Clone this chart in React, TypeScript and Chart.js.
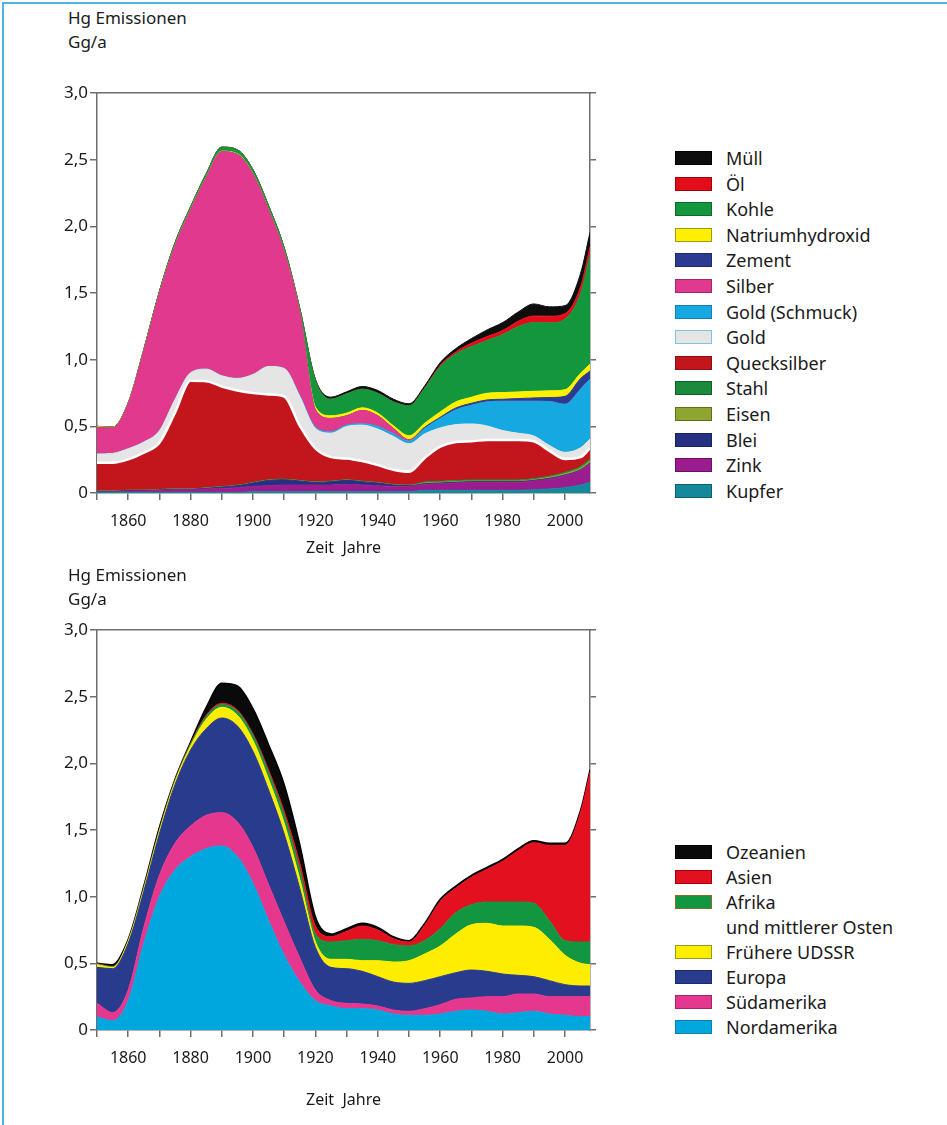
import React, { useEffect, useRef } from 'react';
import { Chart, registerables } from 'chart.js';

Chart.register(...registerables);

const FONT = '"Noto Sans", "Open Sans", sans-serif';
const TEXT = '#1a1a1a';
const AXIS = '#6e6e6e';

// ---------- data ----------
const years = [1850, 1855, 1860, 1865, 1870, 1875, 1880, 1885, 1890, 1895, 1900, 1905, 1910, 1915, 1920, 1925, 1930, 1935, 1940, 1945, 1950, 1955, 1960, 1965, 1970, 1975, 1980, 1985, 1990, 1995, 2000, 2005, 2008];

const yTickValues = [0, 0.5, 1.0, 1.5, 2.0, 2.5, 3.0];
const xTickYears = [1850, 1860, 1870, 1880, 1890, 1900, 1910, 1920, 1930, 1940, 1950, 1960, 1970, 1980, 1990, 2000];
const xLabelYears = [1860, 1880, 1900, 1920, 1940, 1960, 1980, 2000];

// top chart: emissions by source (Gg/a), bottom of stack first
const kupfer = [0.005, 0.005, 0.005, 0.005, 0.005, 0.005, 0.005, 0.005, 0.005, 0.005, 0.01, 0.01, 0.01, 0.01, 0.01, 0.01, 0.01, 0.01, 0.01, 0.01, 0.01, 0.02, 0.02, 0.02, 0.02, 0.02, 0.02, 0.02, 0.025, 0.03, 0.04, 0.06, 0.08];
const zink = [0.005, 0.005, 0.01, 0.01, 0.015, 0.02, 0.02, 0.025, 0.03, 0.035, 0.04, 0.045, 0.05, 0.05, 0.05, 0.05, 0.055, 0.05, 0.045, 0.04, 0.04, 0.045, 0.05, 0.055, 0.06, 0.06, 0.06, 0.06, 0.065, 0.075, 0.09, 0.11, 0.14];
const blei = [0.003, 0.003, 0.003, 0.003, 0.003, 0.003, 0.003, 0.005, 0.01, 0.015, 0.025, 0.04, 0.04, 0.03, 0.02, 0.025, 0.03, 0.025, 0.02, 0.01, 0.005, 0.005, 0.005, 0.005, 0.005, 0.005, 0.005, 0.005, 0.005, 0.005, 0.005, 0.005, 0.005];
const eisen = [0.002, 0.002, 0.002, 0.002, 0.002, 0.002, 0.002, 0.002, 0.002, 0.002, 0.002, 0.002, 0.002, 0.002, 0.002, 0.002, 0.002, 0.002, 0.002, 0.002, 0.002, 0.005, 0.005, 0.005, 0.005, 0.005, 0.005, 0.005, 0.005, 0.008, 0.01, 0.012, 0.015];
const stahl = [0.002, 0.002, 0.002, 0.002, 0.002, 0.002, 0.002, 0.002, 0.002, 0.002, 0.002, 0.002, 0.002, 0.002, 0.002, 0.002, 0.002, 0.002, 0.002, 0.002, 0.002, 0.008, 0.008, 0.008, 0.008, 0.008, 0.008, 0.008, 0.008, 0.008, 0.01, 0.012, 0.015];
const quecksilber = [0.21, 0.21, 0.23, 0.28, 0.35, 0.57, 0.81, 0.8, 0.75, 0.71, 0.67, 0.64, 0.62, 0.41, 0.25, 0.18, 0.16, 0.15, 0.13, 0.11, 0.1, 0.18, 0.26, 0.29, 0.29, 0.3, 0.3, 0.3, 0.28, 0.19, 0.1, 0.07, 0.08];
const gold = [0.065, 0.07, 0.08, 0.08, 0.09, 0.1, 0.06, 0.09, 0.08, 0.09, 0.14, 0.21, 0.21, 0.22, 0.15, 0.18, 0.24, 0.27, 0.27, 0.25, 0.21, 0.18, 0.14, 0.13, 0.13, 0.105, 0.07, 0.05, 0.04, 0.04, 0.05, 0.07, 0.07];
const goldSchmuck = [0, 0, 0, 0, 0, 0, 0, 0, 0, 0, 0, 0, 0, 0.005, 0.01, 0.01, 0.01, 0.01, 0.02, 0.02, 0.02, 0.04, 0.07, 0.11, 0.14, 0.18, 0.22, 0.24, 0.26, 0.33, 0.36, 0.44, 0.45];
const silber = [0.2, 0.19, 0.335, 0.68, 1.025, 1.15, 1.22, 1.435, 1.68, 1.68, 1.5, 1.17, 0.87, 0.62, 0.13, 0.1, 0.07, 0.1, 0.08, 0.04, 0.01, 0, 0, 0, 0, 0, 0, 0, 0, 0, 0, 0, 0];
const zement = [0, 0, 0, 0, 0, 0, 0, 0, 0, 0, 0, 0, 0, 0, 0, 0, 0, 0, 0, 0, 0, 0.01, 0.01, 0.015, 0.015, 0.015, 0.015, 0.02, 0.025, 0.03, 0.06, 0.08, 0.06];
const natrium = [0.005, 0.005, 0.005, 0.005, 0.005, 0.005, 0.005, 0.005, 0.005, 0.005, 0.005, 0.005, 0.005, 0.005, 0.02, 0.02, 0.02, 0.02, 0.02, 0.02, 0.03, 0.03, 0.04, 0.045, 0.045, 0.05, 0.05, 0.05, 0.05, 0.05, 0.05, 0.04, 0.05];
const kohle = [0.003, 0.003, 0.005, 0.01, 0.015, 0.02, 0.02, 0.025, 0.03, 0.03, 0.03, 0.03, 0.03, 0.03, 0.2, 0.125, 0.145, 0.14, 0.15, 0.18, 0.225, 0.26, 0.34, 0.36, 0.38, 0.395, 0.435, 0.49, 0.515, 0.51, 0.53, 0.6, 0.82];
const oel = [0, 0, 0, 0, 0, 0, 0, 0, 0, 0, 0, 0, 0, 0, 0, 0, 0, 0, 0, 0, 0, 0.005, 0.01, 0.015, 0.025, 0.03, 0.03, 0.04, 0.05, 0.05, 0.04, 0.05, 0.06];
const muell = [0, 0, 0, 0, 0, 0, 0, 0, 0, 0, 0, 0, 0, 0, 0.01, 0.015, 0.015, 0.02, 0.02, 0.02, 0.015, 0.015, 0.02, 0.025, 0.035, 0.05, 0.06, 0.07, 0.09, 0.07, 0.06, 0.1, 0.11];

// bottom chart: emissions by region (Gg/a), bottom of stack first
const nordamerika = [0.1, 0.07, 0.22, 0.65, 1.0, 1.2, 1.3, 1.36, 1.38, 1.3, 1.1, 0.82, 0.56, 0.36, 0.22, 0.18, 0.16, 0.16, 0.15, 0.12, 0.11, 0.11, 0.12, 0.14, 0.15, 0.14, 0.12, 0.13, 0.14, 0.12, 0.11, 0.1, 0.1];
const suedamerika = [0.1, 0.06, 0.08, 0.12, 0.16, 0.2, 0.23, 0.25, 0.25, 0.26, 0.27, 0.27, 0.25, 0.18, 0.08, 0.04, 0.04, 0.035, 0.03, 0.03, 0.03, 0.05, 0.07, 0.09, 0.09, 0.11, 0.13, 0.14, 0.13, 0.13, 0.14, 0.15, 0.15];
const europa = [0.27, 0.33, 0.35, 0.27, 0.31, 0.44, 0.57, 0.65, 0.71, 0.72, 0.72, 0.71, 0.66, 0.52, 0.32, 0.25, 0.26, 0.245, 0.22, 0.21, 0.21, 0.21, 0.21, 0.2, 0.21, 0.19, 0.17, 0.14, 0.13, 0.12, 0.09, 0.08, 0.08];
const udssr = [0.02, 0.01, 0.015, 0.015, 0.02, 0.02, 0.03, 0.07, 0.08, 0.08, 0.08, 0.08, 0.08, 0.07, 0.04, 0.06, 0.07, 0.08, 0.12, 0.15, 0.17, 0.2, 0.23, 0.29, 0.34, 0.36, 0.36, 0.37, 0.37, 0.31, 0.22, 0.17, 0.16];
const afrika = [0.005, 0.005, 0.005, 0.01, 0.01, 0.01, 0.015, 0.02, 0.02, 0.03, 0.04, 0.05, 0.06, 0.07, 0.06, 0.13, 0.14, 0.16, 0.15, 0.13, 0.11, 0.1, 0.13, 0.16, 0.15, 0.16, 0.18, 0.18, 0.18, 0.14, 0.11, 0.16, 0.17];
const asien = [0.002, 0.002, 0.002, 0.005, 0.005, 0.005, 0.005, 0.01, 0.01, 0.01, 0.01, 0.02, 0.03, 0.05, 0.06, 0.04, 0.07, 0.1, 0.08, 0.045, 0.03, 0.115, 0.205, 0.185, 0.205, 0.245, 0.305, 0.385, 0.455, 0.565, 0.715, 0.975, 1.275];
const ozeanien = [0.003, 0.013, 0.008, 0.01, 0.015, 0.005, 0.01, 0.06, 0.15, 0.18, 0.19, 0.19, 0.2, 0.14, 0.07, 0.02, 0.02, 0.02, 0.02, 0.015, 0.01, 0.015, 0.015, 0.015, 0.015, 0.015, 0.015, 0.015, 0.015, 0.015, 0.015, 0.015, 0.015];

type Series = { label: string; data: number[]; color: string; edge: string; line?: string; lineWidth?: number; legend?: string[] };

const sourceSeries: Series[] = [
  { label: 'Kupfer', data: kupfer, color: '#13899b', edge: '#0d5f6b' },
  { label: 'Zink', data: zink, color: '#9b1c8e', edge: '#6b1060' },
  { label: 'Blei', data: blei, color: '#263081', edge: '#1a2160' },
  { label: 'Eisen', data: eisen, color: '#8fa531', edge: '#5d7020' },
  { label: 'Stahl', data: stahl, color: '#1b8a3c', edge: '#0f5f28' },
  { label: 'Quecksilber', data: quecksilber, color: '#c3161c', edge: '#8a1015', line: '#ffffff', lineWidth: 2.5 },
  { label: 'Gold', data: gold, color: '#e5e5e5', edge: '#7ec3e0' },
  { label: 'Gold (Schmuck)', data: goldSchmuck, color: '#16a9e1', edge: '#1080b0' },
  { label: 'Silber', data: silber, color: '#e1398e', edge: '#a02868' },
  { label: 'Zement', data: zement, color: '#2a3b91', edge: '#1b2a6a' },
  { label: 'Natriumhydroxid', data: natrium, color: '#fff000', edge: '#9a9a20' },
  { label: 'Kohle', data: kohle, color: '#13963c', edge: '#0c6b2a' },
  { label: 'Öl', data: oel, color: '#e30d1a', edge: '#a00010' },
  { label: 'Müll', data: muell, color: '#0d0d0d', edge: '#000000', lineWidth: 1 },
];

const regionSeries: Series[] = [
  { label: 'Nordamerika', data: nordamerika, color: '#00a7de', edge: '#1080b0' },
  { label: 'Südamerika', data: suedamerika, color: '#e4378d', edge: '#a02868' },
  { label: 'Europa', data: europa, color: '#283b8d', edge: '#1b2a6a' },
  { label: 'Frühere UDSSR', data: udssr, color: '#ffed00', edge: '#8aa020' },
  { label: 'Afrika', data: afrika, color: '#139640', edge: '#8a6a30', legend: ['Afrika', 'und mittlerer Osten'] },
  { label: 'Asien', data: asien, color: '#e3101f', edge: '#a00010' },
  { label: 'Ozeanien', data: ozeanien, color: '#0a0a0a', edge: '#000000', line: '#000000', lineWidth: 1.5 },
];

const fmtY = (v: number) => (v === 0 ? '0' : v.toFixed(1).replace('.', ','));

function StackedArea({ series, top, height }: { series: Series[]; top: number; height: number }) {
  const ref = useRef<HTMLCanvasElement | null>(null);
  useEffect(() => {
    if (!ref.current) return;
    const axisHeight = height - 493;
    const chart = new Chart(ref.current, {
      type: 'line',
      data: {
        datasets: series.map((s, i) => ({
          label: s.label,
          data: years.map((x, j) => ({ x, y: s.data[j] })),
          backgroundColor: s.color,
          borderColor: s.line ?? s.color,
          borderWidth: s.lineWidth ?? 1,
          fill: i === 0 ? 'origin' : '-1',
          pointRadius: 0,
          cubicInterpolationMode: 'monotone',
          xAxisID: 'x',
          yAxisID: 'y',
        })),
      },
      options: {
        responsive: false,
        animation: false,
        events: [],
        layout: { padding: { left: 0, right: 64, top: 93, bottom: 0 } },
        plugins: { legend: { display: false }, tooltip: { enabled: false } },
        scales: {
          x: {
            type: 'linear',
            position: 'bottom',
            min: 1850,
            max: 2008,
            afterBuildTicks: (s: any) => {
              s.ticks = xTickYears.map((value) => ({ value }));
            },
            afterFit: (s: any) => {
              s.height = axisHeight;
            },
            ticks: {
              autoSkip: false,
              maxRotation: 0,
              padding: 12,
              color: TEXT,
              font: { family: FONT, size: 16 },
              callback: (v: any) => (xLabelYears.includes(Number(v)) ? String(v) : ''),
            },
            grid: { drawOnChartArea: false, drawTicks: true, tickLength: 7, color: AXIS, lineWidth: 1.5 },
            border: { display: true, color: AXIS, width: 1.5 },
            title: {
              display: true,
              text: 'Zeit  Jahre',
              color: TEXT,
              font: { family: FONT, size: 16 },
              padding: { top: 0, bottom: 17 },
            },
          },
          x2: {
            type: 'linear',
            position: 'top',
            min: 1850,
            max: 2008,
            afterFit: (s: any) => {
              s.height = 0;
            },
            ticks: { display: false },
            grid: { drawOnChartArea: false, drawTicks: false },
            border: { display: true, color: AXIS, width: 1.5 },
          },
          y: {
            type: 'linear',
            position: 'left',
            stacked: true,
            min: 0,
            max: 3,
            afterBuildTicks: (s: any) => {
              s.ticks = yTickValues.map((value) => ({ value }));
            },
            afterFit: (s: any) => {
              s.width = 97;
            },
            ticks: { color: TEXT, padding: 2, font: { family: FONT, size: 17 }, callback: (v: any) => fmtY(Number(v)) },
            grid: { drawOnChartArea: false, drawTicks: true, tickLength: 7, color: AXIS, lineWidth: 1.5 },
            border: { display: true, color: AXIS, width: 1.5 },
          },
          y2: {
            type: 'linear',
            position: 'right',
            min: 0,
            max: 3,
            afterBuildTicks: (s: any) => {
              s.ticks = yTickValues.map((value) => ({ value }));
            },
            afterFit: (s: any) => {
              s.width = 6;
            },
            ticks: { display: false },
            grid: { drawOnChartArea: false, drawTicks: true, tickLength: 6, color: AXIS, lineWidth: 1.5 },
            border: { display: true, color: AXIS, width: 1.5 },
          },
        },
      } as any,
    });
    return () => chart.destroy();
  }, [series, top, height]);
  return <canvas ref={ref} width={660} height={height} style={{ position: 'absolute', left: 0, top, width: 660, height }} />;
}

function Legend({ series, top, step }: { series: Series[]; top: number; step: number }) {
  const rows: { text: string; color?: string; edge?: string }[] = [];
  [...series].reverse().forEach((s) => {
    const lines = s.legend ?? [s.label];
    lines.forEach((t, k) => rows.push(k === 0 ? { text: t, color: s.color, edge: s.edge } : { text: t }));
  });
  return (
    <>
      {rows.map((r, i) => (
        <div key={i} style={{ position: 'absolute', left: 675, top: top + i * step - 12, height: 24, display: 'flex', alignItems: 'center' }}>
          <div
            style={{
              width: 37,
              height: 14,
              boxSizing: 'border-box',
              background: r.color ?? 'transparent',
              border: r.color ? `1.5px solid ${r.edge}` : 'none',
              marginRight: 14,
            }}
          />
          <span style={{ fontSize: 18, color: TEXT, whiteSpace: 'nowrap' }}>{r.text}</span>
        </div>
      ))}
    </>
  );
}

function YTitle({ top }: { top: number }) {
  return (
    <div style={{ position: 'absolute', left: 68, top, fontSize: 17, lineHeight: '24px', color: TEXT }}>
      <div>Hg Emissionen</div>
      <div>Gg/a</div>
    </div>
  );
}

export default function App() {
  return (
    <div style={{ position: 'absolute', left: 0, top: 0, width: 947, height: 1125, background: '#fff', fontFamily: FONT, overflow: 'hidden' }}>
      <div style={{ position: 'absolute', left: 2, top: 2, width: 945, height: 1123, borderTop: '2px solid #4fb5e3', borderLeft: '2px solid #4fb5e3' }} />
      <YTitle top={6} />
      <StackedArea series={sourceSeries} top={0} height={575} />
      <Legend series={sourceSeries} top={158} step={25.6} />
      <YTitle top={563} />
      <StackedArea series={regionSeries} top={537} height={590} />
      <Legend series={regionSeries} top={852} step={25} />
    </div>
  );
}
